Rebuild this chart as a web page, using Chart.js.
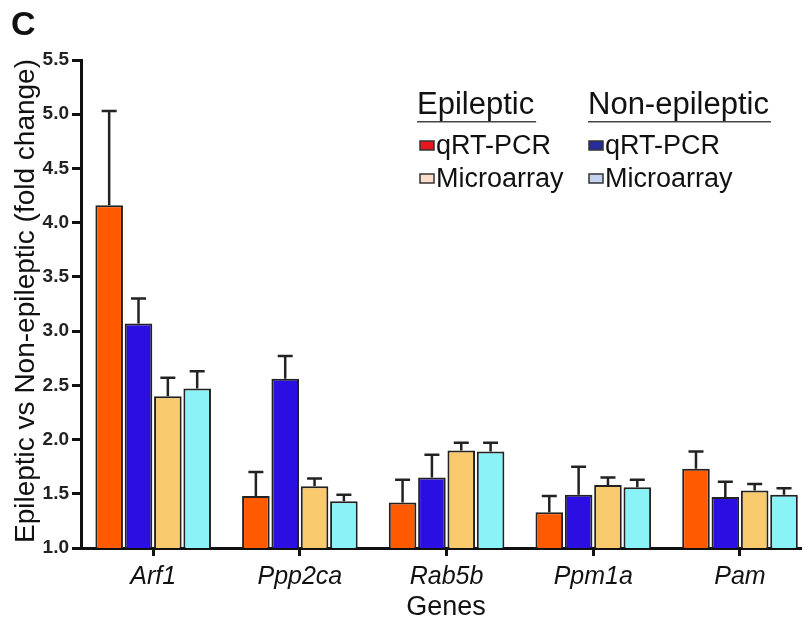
<!DOCTYPE html>
<html>
<head>
<meta charset="utf-8">
<script src="https://cdn.jsdelivr.net/npm/chart.js@4.4.1/dist/chart.umd.min.js"></script>
<style>
  body { margin: 0; background: #fff; }
  #wrap { width: 804px; height: 626px; }
</style>
</head>
<body>
<div id="wrap"><canvas id="myCanvas" width="804" height="626"></canvas></div>
<script>
// genes on the x axis
const genes = ['Arf1', 'Ppp2ca', 'Rab5b', 'Ppm1a', 'Pam'];
// fold change, epileptic vs non-epileptic
const epiQ = [4.16, 1.48, 1.42, 1.33, 1.73];   // qRT-PCR
const nonQ = [3.07, 2.56, 1.65, 1.49, 1.47];   // qRT-PCR
const epiM = [2.40, 1.57, 1.90, 1.58, 1.53];   // microarray
const nonM = [2.47, 1.43, 1.89, 1.56, 1.49];   // microarray
// upper error (SEM)
const epiQErr = [0.87, 0.22, 0.21, 0.15, 0.16];
const nonQErr = [0.23, 0.21, 0.21, 0.26, 0.14];
const epiMErr = [0.17, 0.07, 0.07, 0.07, 0.06];
const nonMErr = [0.16, 0.06, 0.08, 0.07, 0.06];
const yTicks = [1.0, 1.5, 2.0, 2.5, 3.0, 3.5, 4.0, 4.5, 5.0, 5.5];

const FONT = '"Liberation Sans", Arial, sans-serif';
const toPoints = arr => arr.map((v, i) => ({ x: i, y: v }));

const errorBars = {
  id: 'errorBars',
  afterDatasetsDraw(chart) {
    const ctx = chart.ctx;
    const yScale = chart.scales.y;
    ctx.save();
    ctx.strokeStyle = '#222';
    ctx.lineWidth = 2.5;
    chart.data.datasets.forEach((ds, di) => {
      const meta = chart.getDatasetMeta(di);
      meta.data.forEach((bar, i) => {
        const top = yScale.getPixelForValue(ds.data[i].y + ds.err[i]);
        ctx.beginPath();
        ctx.moveTo(bar.x, bar.y);
        ctx.lineTo(bar.x, top);
        ctx.moveTo(bar.x - 7.5, top);
        ctx.lineTo(bar.x + 7.5, top);
        ctx.stroke();
      });
    });
    ctx.restore();
  }
};

const decorations = {
  id: 'decorations',
  afterDraw(chart) {
    const ctx = chart.ctx;
    ctx.save();
    ctx.fillStyle = '#111';
    // panel letter
    ctx.font = 'bold 34px ' + FONT;
    ctx.textBaseline = 'alphabetic';
    ctx.fillText('C', 11, 35);

    // y title
    ctx.save();
    ctx.translate(26, 301);
    ctx.rotate(-Math.PI / 2);
    ctx.textAlign = 'center';
    ctx.textBaseline = 'middle';
    ctx.font = '28px ' + FONT;
    ctx.fillText('Epileptic vs Non-epileptic (fold change)', 0, 0);
    ctx.restore();

    // x title
    ctx.textAlign = 'center';
    ctx.font = '27px ' + FONT;
    ctx.fillText('Genes', 446, 615);

    // legend
    ctx.textAlign = 'left';
    ctx.font = '31px ' + FONT;
    const heads = [['Epileptic', 417], ['Non-epileptic', 588]];
    heads.forEach(([t, x]) => {
      ctx.fillText(t, x, 114);
      const w = ctx.measureText(t).width;
      ctx.fillStyle = '#444';
      ctx.fillRect(x, 121, w + 2, 1.5);
      ctx.fillStyle = '#111';
    });
    const rows = [
      ['qRT-PCR', 420, 154, '#E8171F'],
      ['Microarray', 420, 187, '#FCDCCB'],
      ['qRT-PCR', 589, 154, '#262C9A'],
      ['Microarray', 589, 187, '#C5D3EE']
    ];
    ctx.font = '27px ' + FONT;
    rows.forEach(([t, x, base, col]) => {
      ctx.fillStyle = col;
      ctx.fillRect(x, base - 13, 14, 9);
      ctx.strokeStyle = '#333';
      ctx.lineWidth = 1.5;
      ctx.strokeRect(x, base - 13, 14, 9);
      ctx.fillStyle = '#111';
      ctx.fillText(t, x + 16, base);
    });
    ctx.restore();
  }
};

const ctx = document.getElementById('myCanvas').getContext('2d');
const myBarChart = new Chart(ctx, {
  type: 'bar',
  data: {
    datasets: [
      { label: 'Epileptic qRT-PCR', data: toPoints(epiQ), err: epiQErr, backgroundColor: '#FF5A00' },
      { label: 'Non-epileptic qRT-PCR', data: toPoints(nonQ), err: nonQErr, backgroundColor: '#2A0EE2' },
      { label: 'Epileptic Microarray', data: toPoints(epiM), err: epiMErr, backgroundColor: '#F9C96E' },
      { label: 'Non-epileptic Microarray', data: toPoints(nonM), err: nonMErr, backgroundColor: '#89F3F8' }
    ]
  },
  options: {
    responsive: false,
    animation: false,
    devicePixelRatio: 1,
    categoryPercentage: 0.8,
    barPercentage: 0.94,
    layout: { padding: { top: 60, right: 4, left: 0, bottom: 0 } },
    plugins: { legend: { display: false }, tooltip: { enabled: false } },
    datasets: { bar: { borderColor: '#222', borderWidth: 2 } },
    scales: {
      x: {
        type: 'linear',
        min: -0.492,
        max: 4.409,
        offset: false,
        afterFit: s => { s.height = 78; },
        border: { display: true, width: 3, color: '#111' },
        grid: { offset: false, drawOnChartArea: false, tickLength: 8, lineWidth: 3, color: '#111' },
        ticks: {
          stepSize: 1,
          includeBounds: false,
          autoSkip: false,
          maxRotation: 0,
          padding: 6,
          color: '#111',
          font: { family: FONT, size: 25, style: 'italic' },
          callback: v => (Number.isInteger(v) ? genes[v] : '')
        }
      },
      y: {
        min: 1,
        max: 5.5,
        afterFit: s => { s.width = 81; },
        afterBuildTicks: s => { s.ticks = yTicks.map(v => ({ value: v })); },
        border: { display: true, width: 3, color: '#111' },
        grid: { drawOnChartArea: false, tickLength: 9, lineWidth: 3, color: '#111' },
        ticks: {
          padding: 3,
          color: '#222',
          font: { family: FONT, size: 19, weight: 'bold' },
          callback: v => v.toFixed(1)
        }
      }
    }
  },
  plugins: [errorBars, decorations]
});
</script>
</body>
</html>
